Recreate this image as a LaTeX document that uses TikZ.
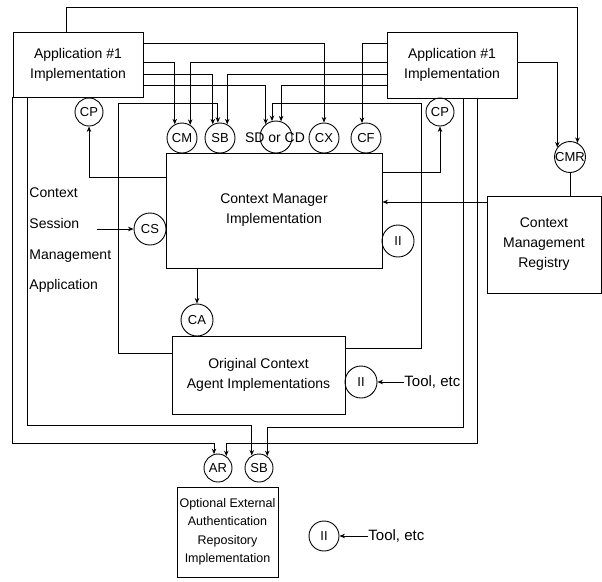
\documentclass[tikz,border=0pt]{standalone}
\usepackage{fontspec}
\setmainfont{Liberation Sans}
\usetikzlibrary{arrows.meta}
\begin{document}
\begin{tikzpicture}[x=1pt,y=-1pt,
  line width=0.9pt,
  box/.style={draw, rectangle, inner sep=0pt, align=center, font=\fontsize{14}{20}\selectfont},
  port/.style={draw, circle, inner sep=0pt, minimum size=#1, font=\fontsize{13}{13}\selectfont},
  port/.default=30pt,
  lbl/.style={inner sep=0pt, anchor=west, font=\fontsize{14}{16}\selectfont},
  toollbl/.style={inner sep=0pt, anchor=west, font=\fontsize{15}{15}\selectfont},
  arr/.style={-{Stealth[length=5.5pt,width=4.5pt]}}
]
\fill[white] (0,0) rectangle (602,581);
\useasboundingbox (0,0) rectangle (602,581);

% boxes
\node[box, minimum width=130pt, minimum height=65pt] (app1) at (78,64.5) {Application \#1\\Implementation};
\node[box, minimum width=130pt, minimum height=66pt] (app2) at (452,65) {Application \#1\\Implementation};
\node[box, minimum width=216pt, minimum height=115pt] (cm) at (274,210.5) {Context Manager\\Implementation};
\node[box, minimum width=114pt, minimum height=97pt] (reg) at (544,244.5) {Context\\Management\\Registry};
\node[box, minimum width=173pt, minimum height=78pt] (orig) at (258.5,375) {Original Context\\Agent Implementations};
\node[box, minimum width=101pt, minimum height=90pt, font=\fontsize{12.5}{18.5}\selectfont] (ext) at (227.5,532) {Optional External\\Authentication\\Repository\\Implementation};

% circles
\node[port=28pt] (cpL) at (89,112) {CP};
\node[port=28pt] (cpR) at (440,112) {CP};
\node[port] (cmC) at (182,138) {CM};
\node[port] (sbT) at (220,138) {SB};
\node[port=32pt] (sdcd) at (276,137) {};
\node[inner sep=0pt, font=\fontsize{14}{14}\selectfont] (sdtext) at (275,138) {SD or CD};
\node[port] (cx) at (324,138) {CX};
\node[port] (cf) at (366,138) {CF};
\node[port] (cmr) at (570,157) {CMR};
\node[port=32pt] (cs) at (150,229) {CS};
\node[port=32pt] (ii1) at (398,241) {II};
\node[port=32pt] (ca) at (197,320) {CA};
\node[port=32pt] (ii2) at (361,382) {II};
\node[port=28pt] (ar) at (218,468) {AR};
\node[port=28pt] (sbB) at (259,468) {SB};
\node[port] (ii3) at (324,536) {II};

% texts
\node[lbl] (t1) at (29,193) {Context};
\node[lbl] (t2) at (29,223) {Session};
\node[lbl] (t3) at (29,256) {Management};
\node[lbl] (t4) at (29,286) {Application};
\coordinate (csin) at (97,229);
\node[toollbl] (tool1) at (404,382) {Tool, etc};
\node[toollbl] (tool2) at (368,536) {Tool, etc};

% top line to CMR
\draw[arr] ([xshift=-12pt]app1.north) |- (cmr.62 |- 0,7) -- (cmr.62);
\draw[arr] (app2.east |- 0,62) -| (cmr.143);
\draw (cmr.south) -- (reg.north -| cmr.south);

% app1 to ports
\draw[arr] (app1.east |- 0,43) -| (cx.north);
\draw[arr] (app1.east |- 0,62) -| (cmC.118);
\draw[arr] (app1.east |- 0,74) -| (sbT.118);
\draw[arr] (app1.east |- 0,85) -| (sdcd.129);

% app2 to ports
\draw[arr] (app2.west |- 0,43) -| (cf.105);
\draw[arr] (app2.west |- 0,62) -| (cmC.58);
\draw[arr] (app2.west |- 0,74) -| (sbT.62);
\draw[arr] (app2.west |- 0,85) -| (sdcd.72);

% loops from original agent
\draw[arr] (orig.west |- 0,353) -| (118.5,103) -| (sbT.98);
\draw[arr] (orig.east |- 0,348) -| (421,103) -| (sdcd.104);

% context manager connections
\draw[arr] (cm.west |- 0,177) -| (cpL.south);
\draw[arr] (cm.east |- 0,172) -| (cpR.south);
\draw[arr] (reg.west |- 0,202) -- (cm.east |- 0,202);
\draw[arr] (cm.south -| ca.north) -- (ca.north);
\draw[arr] (csin) -- (cs.west);

% tools
\draw[arr] (tool1.west) -- (ii2.east);
\draw[arr] (tool2.west) -- (ii3.east);

% outer lines to AR / SB
\draw[arr] (app1.south -| 27,0) |- (sbB.120 |- 0,425) -- (sbB.120);
\draw[arr] (app1.south west) |- (ar.106 |- 0,443) -- (ar.106);
\draw[arr] (app2.south -| 463,0) |- (sbB.55 |- 0,427) -- (sbB.55);
\draw[arr] (app2.south -| 477,0) |- (ar.55 |- 0,443) -- (ar.55);
\end{tikzpicture}
\end{document}
